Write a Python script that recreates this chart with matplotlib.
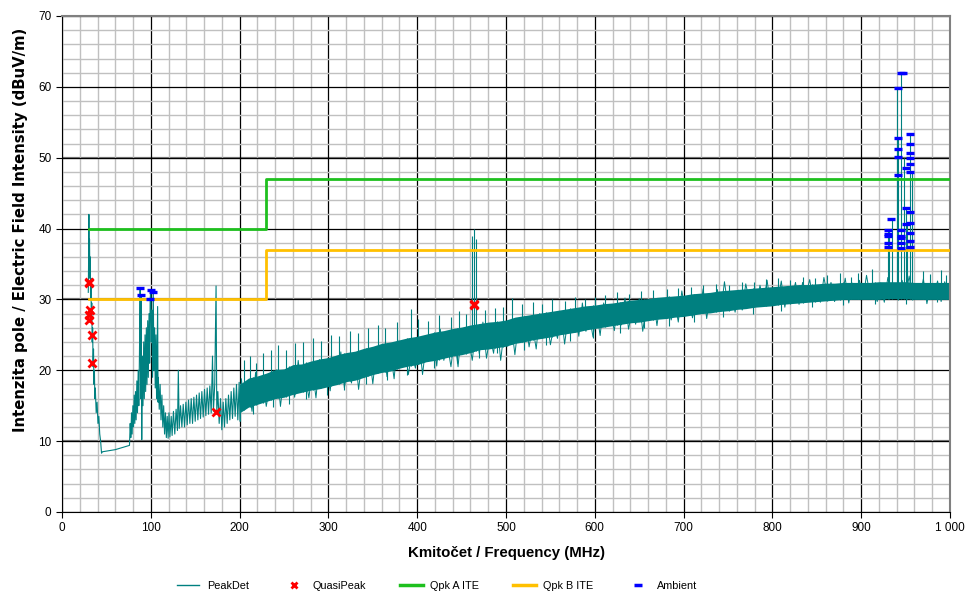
import numpy as np
import matplotlib
matplotlib.use("Agg")
import matplotlib.pyplot as plt
from matplotlib.lines import Line2D
from matplotlib.ticker import MultipleLocator, FuncFormatter

plt.rcParams['font.family'] = ['Liberation Sans', 'DejaVu Sans']

# PeakDet trace, 28-202 MHz (read point by point)
lf_freq = [29.6, 30.0, 30.3, 30.6, 31.0, 31.4, 31.8, 32.2, 32.6, 33.0, 33.5, 34.0, 34.5, 35.0,
           35.5, 36.0, 36.5, 37.0, 37.5, 38.5, 39.5, 40.5, 41.5, 42.5, 43.5, 44.5, 45.5, 60.0,
           76.0, 76.8, 77.5, 78.3, 79.0, 79.8, 80.5, 81.3, 82.0, 82.8, 83.5, 84.3, 85.0, 85.8,
           86.5, 87.2, 88.0, 88.6, 89.2, 89.8, 90.5, 91.2, 92.0, 92.7, 93.5, 94.2, 95.0, 95.7,
           96.5, 97.2, 98.0, 98.7, 99.3, 100.0, 100.6, 101.3, 102.0, 102.8, 103.5, 104.3, 105.0,
           105.8, 106.5, 107.2, 107.7, 108.2, 108.5, 109.5, 110.5, 111.5, 112.5, 113.5, 114.5,
           115.5, 116.5, 117.5, 118.5, 119.5, 120.5, 121.5, 123.0, 124.0, 125.5, 127.0, 128.5,
           130.0, 131.0, 132.0, 133.5, 135.0, 136.5, 138.0, 139.5, 141.0, 142.5, 144.0, 145.5,
           147.0, 148.5, 150.0, 151.5, 153.0, 154.5, 156.0, 157.5, 159.0, 160.5, 162.0, 163.5,
           165.0, 166.5, 168.0, 169.5, 170.5, 172.0, 173.5, 174.3, 175.5, 177.0, 178.5, 180.0,
           181.5, 183.0, 184.5, 186.0, 187.5, 189.0, 190.5, 192.0, 193.5, 195.0, 196.5, 198.0,
           199.5, 200.5, 202.0]
lf_level = [31.0, 36.0, 42.0, 34.0, 38.5, 33.0, 36.0, 30.0, 33.0, 27.0, 29.5, 24.0, 26.0, 20.5,
            23.0, 18.0, 20.0, 16.0, 17.5, 14.0, 15.5, 12.5, 13.5, 11.0, 10.0, 8.3, 8.5, 8.8,
            9.4, 12.5, 10.5, 14.0, 11.0, 15.0, 12.0, 16.5, 12.5, 17.0, 13.0, 18.5, 14.0, 20.0,
            15.0, 22.0, 31.6, 16.0, 30.6, 10.2, 22.0, 15.0, 24.0, 16.0, 25.0, 17.0, 26.0, 18.0,
            27.0, 19.0, 28.0, 21.0, 30.1, 31.3, 24.0, 28.5, 19.0, 31.0, 20.0, 26.0, 17.5,
            25.0, 16.0, 23.0, 29.0, 15.5, 19.0, 14.5, 18.0, 13.0, 16.5, 12.0, 15.0,
            11.0, 14.0, 10.5, 13.5, 10.4, 14.0, 10.6, 13.5, 10.8, 14.2, 11.0, 14.5,
            11.5, 20.0, 11.8, 15.0, 12.0, 15.2, 12.0, 15.5, 12.3, 15.8, 12.5, 16.0,
            12.5, 16.2, 12.8, 16.5, 13.0, 16.8, 13.2, 17.0, 13.4, 17.3, 13.6, 17.5,
            13.8, 17.8, 14.0, 22.0, 14.2, 18.0, 31.9, 14.0, 17.0, 12.5, 16.0, 11.6,
            15.5, 12.0, 16.0, 12.5, 16.5, 13.0, 17.0, 13.2, 17.5, 13.5, 18.0, 13.0,
            18.3, 12.8, 18.6]

# PeakDet trace, 202-998 MHz, every 4 MHz (highs and lows of the noise)
hf_freq = list(range(202, 999, 4))
hf_level = [18.8, 14.5, 17.8, 14.2, 19.7, 16.0, 18.9, 14.9, 17.8, 15.8,
            20.1, 14.9, 19.2, 17.2, 20.0, 16.2, 21.4, 17.0, 19.3, 16.1,
            20.2, 16.1, 21.5, 18.2, 20.2, 17.1, 21.5, 18.0, 22.6, 17.5,
            20.6, 18.2, 22.5, 17.3, 21.6, 19.3, 22.5, 18.1, 22.7, 20.2,
            23.4, 19.1, 22.4, 18.8, 24.3, 20.5, 23.4, 19.4, 22.3, 20.3,
            24.6, 19.4, 23.7, 21.7, 24.5, 20.6, 25.8, 21.4, 23.7, 20.5,
            24.6, 20.5, 25.9, 22.5, 24.5, 21.4, 25.8, 22.3, 26.8, 21.7,
            24.8, 22.4, 26.7, 21.4, 25.7, 23.4, 26.6, 22.2, 26.7, 24.2,
            27.2, 23.3, 26.3, 23.0, 28.0, 24.6, 27.2, 23.6, 26.3, 24.5,
            28.3, 23.7, 27.6, 25.8, 28.3, 24.8, 29.5, 25.5, 27.6, 24.7,
            28.4, 24.9, 29.5, 26.5, 28.2, 25.6, 29.4, 26.4, 30.2, 25.8,
            28.5, 26.5, 30.1, 25.5, 29.2, 27.3, 30.0, 26.3, 30.0, 27.9,
            30.5, 27.1, 29.8, 26.8, 31.2, 28.2, 30.5, 27.4, 29.6, 28.0,
            31.5, 27.3, 30.8, 29.1, 31.4, 28.3, 32.5, 29.0, 30.7, 28.2,
            31.3, 28.5, 32.2, 29.8, 31.2, 29.0, 32.0, 29.6, 32.7, 29.2,
            31.3, 29.6, 32.6, 28.9, 31.8, 30.2, 32.4, 29.3, 32.4, 30.7,
            32.8, 29.9, 32.0, 29.6, 33.1, 30.5, 32.4, 29.7, 31.5, 30.2,
            33.0, 29.5, 32.3, 30.9, 32.7, 30.1, 33.4, 30.5, 31.9, 29.7,
            32.3, 29.6, 33.1, 30.8, 32.0, 29.9, 32.7, 30.4, 33.3, 29.9,
            31.8, 30.2, 32.9, 29.4, 32.1, 30.6, 32.6, 29.7, 32.5, 30.8]

# PeakDet noise floor core, 200-1000 MHz
band_freq = list(range(200, 1001, 10))
band_lo = [14.0, 14.8, 15.2, 15.6, 16.0, 16.2, 16.6, 16.9, 17.2, 17.4,
           17.7, 18.0, 18.4, 18.6, 19.0, 19.4, 19.7, 19.9, 20.3, 20.6,
           20.8, 21.2, 21.4, 21.7, 22.0, 22.2, 22.5, 22.9, 23.0, 23.2,
           23.4, 23.8, 24.0, 24.3, 24.5, 24.7, 25.0, 25.2, 25.4, 25.7,
           25.9, 26.1, 26.3, 26.5, 26.7, 26.8, 27.0, 27.2, 27.3, 27.5,
           27.6, 27.8, 28.0, 28.1, 28.3, 28.4, 28.6, 28.7, 28.9, 29.0,
           29.1, 29.3, 29.4, 29.5, 29.6, 29.7, 29.8, 29.9, 30.0, 30.0,
           30.0, 30.0, 30.0, 30.1, 30.1, 30.1, 30.0, 30.0, 30.0, 30.0,
           30.0]
band_hi = [18.0, 18.9, 19.2, 19.6, 20.1, 20.2, 20.8, 20.9, 21.3, 21.6,
           21.8, 22.2, 22.5, 22.7, 23.1, 23.4, 23.8, 24.0, 24.3, 24.6,
           24.8, 25.1, 25.4, 25.6, 25.9, 26.1, 26.4, 26.6, 26.8, 26.9,
           27.1, 27.5, 27.7, 27.9, 28.1, 28.3, 28.5, 28.7, 28.9, 29.1,
           29.2, 29.4, 29.5, 29.7, 29.9, 30.0, 30.1, 30.3, 30.4, 30.5,
           30.6, 30.8, 30.9, 31.0, 31.2, 31.3, 31.4, 31.5, 31.6, 31.7,
           31.8, 31.9, 32.0, 32.1, 32.1, 32.2, 32.3, 32.3, 32.4, 32.4,
           32.4, 32.4, 32.5, 32.5, 32.5, 32.5, 32.4, 32.4, 32.4, 32.4,
           32.4]

# narrow PeakDet spikes above the floor (freq, top)
spike_freq = [205, 212, 218, 226, 235, 243, 252, 262, 271, 283, 292, 303, 312, 324, 333, 345,
              356, 364, 377, 393, 401, 412, 424, 438, 447, 455, 462, 464, 466, 476, 488, 497,
              507, 518, 530, 541, 552, 566, 578, 589, 600, 612, 625, 638, 652, 666, 681, 694,
              708, 722, 737, 751, 766, 779, 793, 806, 820, 834, 848, 861, 876, 889, 896, 912,
              929.8, 931.7, 935, 940.7, 942, 944.5, 947.8, 950, 952, 955.5, 957,
              970, 978, 990, 996]
spike_top = [21.5, 22.0, 21.0, 22.4, 22.8, 23.5, 22.9, 23.8, 24.0, 24.6, 24.2, 25.0, 24.8, 25.6,
             25.2, 26.0, 26.4, 26.0, 26.8, 28.6, 27.2, 27.0, 27.8, 27.5, 28.3, 28.0, 39.0, 40.0,
             38.5, 28.5, 28.8, 29.0, 30.2, 29.3, 29.6, 29.4, 30.0, 29.8, 30.4, 30.1, 30.3, 30.6,
             31.0, 30.8, 31.2, 31.3, 31.5, 31.6, 31.8, 32.0, 32.2, 32.0, 32.5, 32.4, 32.9, 33.0,
             32.8, 33.2, 33.0, 33.4, 33.7, 33.2, 33.8, 34.3,
             39.8, 39.8, 41.5, 59.8, 52.8, 62.0, 50.0, 42.9, 40.6, 53.3, 48.0,
             34.0, 33.6, 34.2, 33.5]

# narrow dips below the floor (freq, bottom)
dip_freq = [201, 215, 238, 256, 275, 298, 318, 342, 366, 388, 419, 445, 470, 490, 520, 545,
            572, 598, 628, 655, 683, 712, 744, 778, 810, 845, 880, 915, 950, 985]
dip_bottom = [12.8, 13.8, 14.8, 15.2, 16.0, 16.5, 17.2, 18.0, 18.6, 19.4, 20.3, 21.0, 21.8,
              22.4, 22.9, 23.5, 24.2, 24.6, 25.3, 26.0, 26.3, 26.8, 27.5, 28.0, 28.4, 29.0,
              29.2, 29.4, 29.4, 29.6]

# QuasiPeak readings
qp_freq = [30.7, 30.9, 31.5, 30.7, 30.0, 33.4, 34.2, 173.5, 464.0, 463.5]
qp_level = [32.5, 32.3, 28.5, 27.8, 27.1, 25.0, 21.0, 14.1, 29.4, 29.2]

# limits
limit_freq = [30, 230, 230, 1000]
qpk_a = [40, 40, 47, 47]
qpk_b = [30, 30, 37, 37]

# Ambient readings
amb_freq = [88, 89, 100, 99, 103,
            930, 930, 930, 930, 930, 934,
            941, 941, 941, 941, 941, 945, 947,
            945, 945, 945, 945, 945, 950, 950, 950,
            955, 955, 955, 955, 955, 955, 955, 955, 955, 955, 955]
amb_level = [31.6, 30.6, 31.3, 30.1, 31.0,
             39.8, 39.3, 38.9, 37.9, 37.4, 41.4,
             59.8, 52.8, 51.2, 50.1, 47.6, 62.0, 62.0,
             39.8, 39.0, 38.6, 38.0, 37.2, 48.5, 42.9, 40.6,
             53.3, 52.0, 50.7, 49.9, 49.1, 48.0, 42.3, 40.8, 39.4, 38.3, 37.4]

teal = '#008080'
green = '#1EC01E'
orange = '#FFC000'

fig = plt.figure(figsize=(9.67, 5.95), dpi=100)
ax = fig.add_axes([62 / 967, 1 - 512 / 595, 888 / 967, 496 / 595])

ax.set_xlim(0, 1000)
ax.set_ylim(0, 70)
ax.xaxis.set_major_locator(MultipleLocator(100))
ax.xaxis.set_minor_locator(MultipleLocator(20))
ax.yaxis.set_major_locator(MultipleLocator(10))
ax.yaxis.set_minor_locator(MultipleLocator(2))
ax.grid(which='minor', color='#C0C0C0', lw=1.0, zorder=0)
ax.grid(which='major', color='black', lw=0.9, zorder=0)
for yv in [10, 30, 50]:
    ax.axhline(yv, color='#808080', lw=1.6, zorder=0.5)
ax.set_axisbelow(True)
ax.tick_params(which='minor', length=0)
ax.tick_params(which='major', direction='out', length=4, labelsize=8.5, colors='black')
ax.xaxis.set_major_formatter(FuncFormatter(lambda v, p: f"{int(v):,}".replace(",", " ")))

for s in ['top', 'right']:
    ax.spines[s].set_color('#808080')
    ax.spines[s].set_linewidth(1.5)

# PeakDet
ax.plot(lf_freq, lf_level, color=teal, lw=0.8, zorder=2)
ax.fill_between(band_freq, band_lo, band_hi, color=teal, lw=0, zorder=2)
ax.plot(hf_freq, hf_level, color=teal, lw=0.7, zorder=2)
mid = np.interp(spike_freq, band_freq, band_lo)
ax.vlines(spike_freq, mid, spike_top, color=teal, lw=0.8, zorder=2)
mid_d = np.interp(dip_freq, band_freq, band_hi)
ax.vlines(dip_freq, dip_bottom, mid_d, color=teal, lw=0.8, zorder=2)

# limits
ax.plot(limit_freq, qpk_a, color=green, lw=2.0, zorder=3)
ax.plot(limit_freq, qpk_b, color=orange, lw=2.0, zorder=3)

# QuasiPeak and Ambient
ax.plot(qp_freq, qp_level, ls='none', marker='x', color='red', ms=6, mew=2, zorder=5)
ax.plot(amb_freq, amb_level, ls='none', marker='_', color='#0000FF', ms=5.5, mew=2.4, zorder=4)

ax.set_xlabel('Kmitočet / Frequency (MHz)', fontsize=10.8, fontweight='bold', labelpad=8)
ax.set_ylabel('Intenzita pole / Electric Field Intensity (dBuV/m)', fontsize=10.7,
              fontweight='bold', family='DejaVu Sans')
ax.yaxis.set_label_coords(-0.038, 0.569)

handles = [
    Line2D([], [], color=teal, lw=1),
    Line2D([], [], ls='none', marker='x', color='red', ms=5, mew=2),
    Line2D([], [], color=green, lw=2.5),
    Line2D([], [], color=orange, lw=2.5),
    Line2D([], [], ls='none', marker='_', color='#0000FF', ms=6, mew=2.5),
]
labels = ['PeakDet', 'QuasiPeak', 'Qpk A ITE', 'Qpk B ITE', 'Ambient']
fig.legend(handles, labels, loc='center', bbox_to_anchor=(437 / 967, 1 - 586 / 595), ncol=5,
           frameon=False, fontsize=7.8, handlelength=2.1, handletextpad=0.7, columnspacing=3.1)

fig.savefig('out.png', dpi=100)
